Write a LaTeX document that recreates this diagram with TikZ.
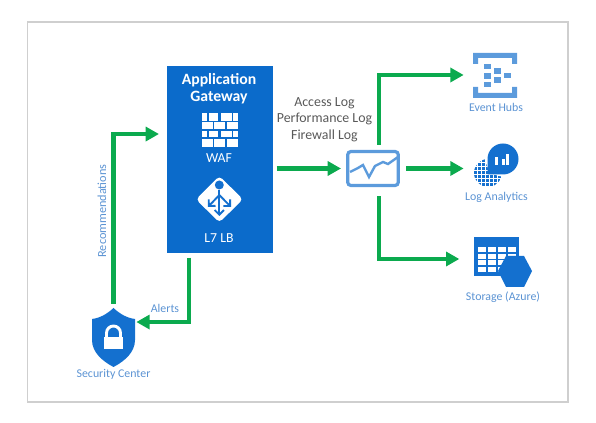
\documentclass[tikz,border=0pt]{standalone}
\usepackage{fontspec}
\setmainfont{Carlito}
\usetikzlibrary{arrows.meta, positioning, calc}
\definecolor{gatewayblue}{HTML}{0B6BCB}
\definecolor{iconblue}{HTML}{1470CF}
\definecolor{paleblue}{HTML}{5C9BDC}
\definecolor{labelblue}{HTML}{5B93D3}
\definecolor{flowgreen}{HTML}{0BAA4E}
\definecolor{loggray}{HTML}{595959}
\definecolor{framegray}{HTML}{CFCFCF}
\tikzset{
    spot/.style={rectangle, inner sep=0pt, outer sep=0pt},
    iconlabel/.style={font=\fontsize{8.9}{10}\selectfont, text=labelblue, inner sep=0pt},
    whitelabel/.style={font=\fontsize{10.3}{12}\selectfont, text=white, inner sep=0pt},
    loglabel/.style={font=\fontsize{10.4}{12}\selectfont, text=loggray, inner sep=0pt},
    arrow/.style={-{Triangle[length=10pt, width=10.5pt]}, line width=3.3pt, draw=flowgreen}
}

\begin{document}
\begin{tikzpicture}[x=0.75pt, y=-0.75pt]
    \useasboundingbox (0,0) rectangle (596,423);
    \draw[framegray, line width=0.8pt] (27.5,22) rectangle (568,402);

    % gateway
    \node[spot, fill=gatewayblue, minimum width=79.3pt, minimum height=140.25pt] (gateway) at (219.85,159.5) {};
    \node[whitelabel, font=\fontsize{11.8}{13.2}\selectfont\bfseries, align=center] (gwtitle) at (219,88.7) {Application\\Gateway};
    \node[whitelabel] (waf) at (219,158) {WAF};
    \node[whitelabel] (lb) at (219,238) {L7 LB};
    \foreach \xa/\xb/\ya/\yb in {201.7/207.3/113.3/120.7, 209.3/218.3/113.3/120.7, 220.7/231.7/113.3/120.7, 233.3/238.3/113.3/120.7,
        201.7/212.7/122/129.3, 214.3/225/122/129.3, 227.3/238.3/122/129.3,
        201.7/207.3/130.7/137.3, 209.3/218.3/130.7/137.3, 220.7/231.7/130.7/137.3, 233.3/238.3/130.7/137.3,
        201.7/212.7/139.3/146.7, 214.3/225/139.3/146.7, 227.3/238.3/139.3/146.7}
        \fill[white] (\xa,\ya) rectangle (\xb,\yb);
    \fill[white, rounded corners=3pt] (219.3,176) -- (243,199.3) -- (219.3,222.5) -- (196,199.3) -- cycle;
    \fill[iconblue] (219.3,185) circle (4.5);
    \draw[iconblue, line width=1.4pt, -{Straight Barb[length=3.5pt, width=7pt]}] (219.3,190) -- (219.3,216);
    \draw[iconblue, line width=1.4pt, -{Straight Barb[length=3.5pt, width=7pt]}] (219.3,195) -- (208,207);
    \draw[iconblue, line width=1.4pt, -{Straight Barb[length=3.5pt, width=7pt]}] (219.3,195) -- (231,207);

    % security center
    \node[spot, minimum width=32.25pt, minimum height=44.25pt] (security) at (113.5,337.5) {};
    \fill[iconblue] (113.5,308) .. controls (120,314) and (127,318) .. (135,319) -- (135,340)
        .. controls (135,352) and (125,361) .. (113.5,367)
        .. controls (102,361) and (92,352) .. (92,340) -- (92,319)
        .. controls (100,318) and (107,314) .. cycle;
    \draw[white, line width=2.2pt] (106.5,338) -- (106.5,333) arc[start angle=180, end angle=360, radius=7] -- (120.5,338);
    \fill[white] (104,337) rectangle (123,349.5);
    \node[iconlabel] (seclabel) at (113.5,374) {Security Center};

    % monitor
    \node[spot, draw=paleblue, fill=white, line width=2.4pt, rounded corners=2.5pt, minimum width=38pt, minimum height=25.5pt] (monitor) at (373,168.5) {};
    \draw[paleblue, line width=1.8pt] (350,172) -- (358,168) -- (363,165) -- (369,177) -- (375,166) -- (383,162) -- (388,164) -- (398,157);

    % event hubs
    \node[spot, minimum width=33pt, minimum height=33.75pt] (eventhubs) at (495,75) {};
    \fill[paleblue] (473,53) -- (517,53) -- (517,64) -- (512,64) -- (512,58) -- (478,58) -- (478,64) -- (473,64) -- cycle;
    \fill[paleblue] (473,98) -- (517,98) -- (517,87) -- (512,87) -- (512,93) -- (478,93) -- (478,87) -- (473,87) -- cycle;
    \foreach \xa/\ya in {483.5/64, 483.5/73.5, 483.5/82, 493.5/68.5, 493.5/77.5, 504/73}
        \fill[paleblue] (\xa,\ya) rectangle ++(7,5.5);
    \node[iconlabel] (hublabel) at (496,107) {Event Hubs};

    % log analytics
    \node[spot, minimum width=33pt, minimum height=40pt] (loganalytics) at (495,169) {};
    \begin{scope}
        \clip (488,173) circle (14);
        \foreach \xa in {474,478,...,502}
            \foreach \ya in {159,163,...,187}
                \fill[iconblue] (\xa,\ya) rectangle ++(2.8,2.8);
    \end{scope}
    \fill[white] (503,159) circle (17.5);
    \fill[iconblue] (503,159) circle (15.5) (487.5,174.5) rectangle (503,159);
    \foreach \xa/\ya in {495/157, 502/159, 506/154}
        \fill[white] (\xa,\ya) rectangle (\xa+3,165);
    \node[iconlabel] (loglabel) at (496.5,197) {Log Analytics};

    % storage
    \node[spot, minimum width=43.5pt, minimum height=33pt] (storage) at (503,259) {};
    \fill[iconblue] (474,237) rectangle (519,276);
    \foreach \xa in {478,488,498,508}
        \foreach \ya in {247.5,254,260.5,267}
            \fill[white] (\xa,\ya) rectangle ++(8.3,5);
    \fill[iconblue] (506,256) -- (524,256) -- (532,271) -- (524,287) -- (506,287) -- (498,271) -- cycle;
    \node[iconlabel] (storelabel) at (503,297) {Storage (Azure)};

    % connectors
    \draw[arrow, shorten <=3pt, shorten >=6pt] (security.north) |- ([yshift=19.1pt]gateway.west);
    \draw[arrow, shorten <=3.5pt, shorten >=1pt] ([xshift=-23pt]gateway.south) |- ([yshift=11.6pt]security.east);
    \draw[arrow, shorten <=3pt, shorten >=5pt] ([yshift=-6.75pt]gateway.east) -- (monitor.west);
    \draw[arrow, shorten <=5pt, shorten >=7pt] ([xshift=4.5pt]monitor.north) |- (eventhubs.west);
    \draw[arrow, shorten <=6pt, shorten >=7pt] (monitor.east) -- (monitor.east -| loganalytics.west);
    \draw[arrow, shorten <=8pt, shorten >=11pt] ([xshift=4.5pt]monitor.south) |- (storage.west);

    % connector labels
    \node[iconlabel, font=\fontsize{9.2}{10}\selectfont, rotate=90] (reclabel) at (102,211) {Recommendations};
    \node[iconlabel] (alertlabel) at (165,308) {Alerts};
    \node[loglabel] (accesslog) at (324.5,103) {Access Log};
    \node[loglabel] (perflog) at (324.5,119) {Performance Log};
    \node[loglabel] (firelog) at (324.5,135.5) {Firewall Log};
\end{tikzpicture}
\end{document}
